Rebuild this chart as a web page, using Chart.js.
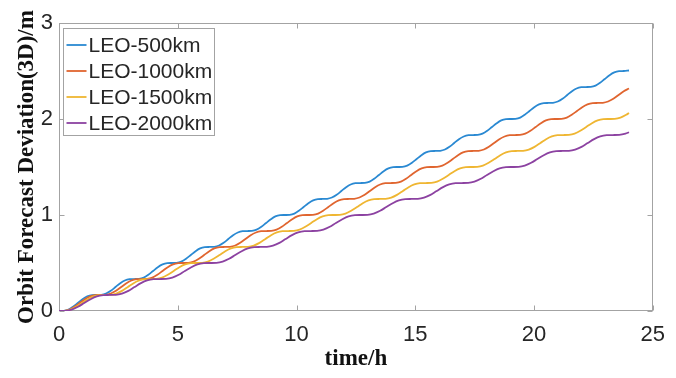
<!DOCTYPE html>
<html>
<head>
<meta charset="utf-8">
<script src="https://cdn.jsdelivr.net/npm/chart.js@4.4.1/dist/chart.umd.min.js"></script>
<style>
  html, body { margin: 0; padding: 0; background: #fff; }
  #wrap { width: 676px; height: 378px; position: relative; }
</style>
</head>
<body>
<div id="wrap"><canvas id="orbit"></canvas></div>
<script>
// Orbit forecast deviation (3D, metres) over 24 h for four LEO altitudes,
// sampled every eighth of an orbit.
const hours500 = [0, 0.20, 0.40, 0.59, 0.79, 0.99, 1.19, 1.39, 1.59, 1.78, 1.98, 2.18, 2.38, 2.58, 2.77, 2.97,
  3.17, 3.37, 3.57, 3.76, 3.96, 4.16, 4.36, 4.56, 4.76, 4.95, 5.15, 5.35, 5.55, 5.75, 5.94, 6.14,
  6.34, 6.54, 6.74, 6.93, 7.13, 7.33, 7.53, 7.73, 7.93, 8.12, 8.32, 8.52, 8.72, 8.92, 9.11, 9.31,
  9.51, 9.71, 9.91, 10.10, 10.30, 10.50, 10.70, 10.90, 11.10, 11.29, 11.49, 11.69, 11.89, 12.09, 12.28, 12.48,
  12.68, 12.88, 13.08, 13.27, 13.47, 13.67, 13.87, 14.07, 14.27, 14.46, 14.66, 14.86, 15.06, 15.26, 15.45, 15.65,
  15.85, 16.05, 16.25, 16.44, 16.64, 16.84, 17.04, 17.24, 17.44, 17.63, 17.83, 18.03, 18.23, 18.43, 18.62, 18.82,
  19.02, 19.22, 19.42, 19.61, 19.81, 20.01, 20.21, 20.41, 20.61, 20.80, 21.00, 21.20, 21.40, 21.60, 21.79, 21.99,
  22.19, 22.39, 22.59, 22.78, 22.98, 23.18, 23.38, 23.58, 23.78, 24.00];
const dev500 = [0, 0.002, 0.015, 0.044, 0.083, 0.123, 0.152, 0.165, 0.167, 0.169, 0.182, 0.210, 0.250, 0.290, 0.318, 0.331,
  0.333, 0.335, 0.348, 0.377, 0.417, 0.456, 0.485, 0.498, 0.500, 0.502, 0.515, 0.544, 0.583, 0.623, 0.652, 0.665,
  0.667, 0.669, 0.682, 0.710, 0.750, 0.790, 0.818, 0.831, 0.833, 0.835, 0.848, 0.877, 0.917, 0.956, 0.985, 0.998,
  1.000, 1.002, 1.015, 1.044, 1.083, 1.123, 1.152, 1.165, 1.167, 1.169, 1.182, 1.210, 1.250, 1.290, 1.318, 1.331,
  1.333, 1.335, 1.348, 1.377, 1.417, 1.456, 1.485, 1.498, 1.500, 1.502, 1.515, 1.544, 1.583, 1.623, 1.652, 1.665,
  1.667, 1.669, 1.682, 1.710, 1.750, 1.790, 1.818, 1.831, 1.833, 1.835, 1.848, 1.877, 1.917, 1.956, 1.985, 1.998,
  2.000, 2.002, 2.015, 2.044, 2.083, 2.123, 2.152, 2.165, 2.167, 2.169, 2.182, 2.210, 2.250, 2.290, 2.318, 2.331,
  2.333, 2.335, 2.348, 2.377, 2.417, 2.456, 2.485, 2.498, 2.500, 2.505];

const hours1000 = [0, 0.22, 0.44, 0.65, 0.87, 1.09, 1.31, 1.53, 1.75, 1.96, 2.18, 2.40, 2.62, 2.84, 3.05, 3.27,
  3.49, 3.71, 3.93, 4.14, 4.36, 4.58, 4.80, 5.02, 5.24, 5.45, 5.67, 5.89, 6.11, 6.33, 6.54, 6.76,
  6.98, 7.20, 7.42, 7.63, 7.85, 8.07, 8.29, 8.51, 8.73, 8.94, 9.16, 9.38, 9.60, 9.82, 10.03, 10.25,
  10.47, 10.69, 10.91, 11.12, 11.34, 11.56, 11.78, 12.00, 12.22, 12.43, 12.65, 12.87, 13.09, 13.31, 13.52, 13.74,
  13.96, 14.18, 14.40, 14.61, 14.83, 15.05, 15.27, 15.49, 15.71, 15.92, 16.14, 16.36, 16.58, 16.80, 17.01, 17.23,
  17.45, 17.67, 17.89, 18.10, 18.32, 18.54, 18.76, 18.98, 19.20, 19.41, 19.63, 19.85, 20.07, 20.29, 20.50, 20.72,
  20.94, 21.16, 21.38, 21.59, 21.81, 22.03, 22.25, 22.47, 22.69, 22.90, 23.12, 23.34, 23.56, 23.78, 24.00];
const dev1000 = [0, 0.002, 0.015, 0.044, 0.083, 0.123, 0.152, 0.165, 0.167, 0.169, 0.182, 0.210, 0.250, 0.290, 0.318, 0.331,
  0.333, 0.335, 0.348, 0.377, 0.417, 0.456, 0.485, 0.498, 0.500, 0.502, 0.515, 0.544, 0.583, 0.623, 0.652, 0.665,
  0.667, 0.669, 0.682, 0.710, 0.750, 0.790, 0.818, 0.831, 0.833, 0.835, 0.848, 0.877, 0.917, 0.956, 0.985, 0.998,
  1.000, 1.002, 1.015, 1.044, 1.083, 1.123, 1.152, 1.165, 1.167, 1.169, 1.182, 1.210, 1.250, 1.290, 1.318, 1.331,
  1.333, 1.335, 1.348, 1.377, 1.417, 1.456, 1.485, 1.498, 1.500, 1.502, 1.515, 1.544, 1.583, 1.623, 1.652, 1.665,
  1.667, 1.669, 1.682, 1.710, 1.750, 1.790, 1.818, 1.831, 1.833, 1.835, 1.848, 1.877, 1.917, 1.956, 1.985, 1.998,
  2.000, 2.002, 2.015, 2.044, 2.083, 2.123, 2.152, 2.165, 2.167, 2.169, 2.182, 2.210, 2.250, 2.290, 2.318];

const hours1500 = [0, 0.24, 0.48, 0.72, 0.97, 1.21, 1.45, 1.69, 1.93, 2.17, 2.41, 2.65, 2.90, 3.14, 3.38, 3.62,
  3.86, 4.10, 4.34, 4.58, 4.83, 5.07, 5.31, 5.55, 5.79, 6.03, 6.27, 6.51, 6.76, 7.00, 7.24, 7.48,
  7.72, 7.96, 8.20, 8.44, 8.69, 8.93, 9.17, 9.41, 9.65, 9.89, 10.13, 10.37, 10.62, 10.86, 11.10, 11.34,
  11.58, 11.82, 12.06, 12.30, 12.55, 12.79, 13.03, 13.27, 13.51, 13.75, 13.99, 14.23, 14.48, 14.72, 14.96, 15.20,
  15.44, 15.68, 15.92, 16.16, 16.41, 16.65, 16.89, 17.13, 17.37, 17.61, 17.85, 18.09, 18.34, 18.58, 18.82, 19.06,
  19.30, 19.54, 19.78, 20.02, 20.27, 20.51, 20.75, 20.99, 21.23, 21.47, 21.71, 21.95, 22.20, 22.44, 22.68, 22.92,
  23.16, 23.40, 23.64, 23.88, 24.00];
const dev1500 = [0, 0.002, 0.015, 0.044, 0.083, 0.123, 0.152, 0.165, 0.167, 0.169, 0.182, 0.210, 0.250, 0.290, 0.318, 0.331,
  0.333, 0.335, 0.348, 0.377, 0.417, 0.456, 0.485, 0.498, 0.500, 0.502, 0.515, 0.544, 0.583, 0.623, 0.652, 0.665,
  0.667, 0.669, 0.682, 0.710, 0.750, 0.790, 0.818, 0.831, 0.833, 0.835, 0.848, 0.877, 0.917, 0.956, 0.985, 0.998,
  1.000, 1.002, 1.015, 1.044, 1.083, 1.123, 1.152, 1.165, 1.167, 1.169, 1.182, 1.210, 1.250, 1.290, 1.318, 1.331,
  1.333, 1.335, 1.348, 1.377, 1.417, 1.456, 1.485, 1.498, 1.500, 1.502, 1.515, 1.544, 1.583, 1.623, 1.652, 1.665,
  1.667, 1.669, 1.682, 1.710, 1.750, 1.790, 1.818, 1.831, 1.833, 1.835, 1.848, 1.877, 1.917, 1.956, 1.985, 1.998,
  2.000, 2.002, 2.015, 2.044, 2.062];

const hours2000 = [0, 0.27, 0.53, 0.80, 1.06, 1.33, 1.59, 1.86, 2.12, 2.39, 2.65, 2.92, 3.18, 3.45, 3.71, 3.98,
  4.24, 4.51, 4.77, 5.04, 5.30, 5.57, 5.83, 6.10, 6.36, 6.63, 6.89, 7.16, 7.42, 7.69, 7.95, 8.22,
  8.48, 8.75, 9.01, 9.28, 9.54, 9.81, 10.07, 10.34, 10.60, 10.87, 11.13, 11.40, 11.66, 11.93, 12.19, 12.46,
  12.72, 12.99, 13.25, 13.52, 13.78, 14.05, 14.31, 14.58, 14.84, 15.11, 15.37, 15.64, 15.90, 16.17, 16.43, 16.70,
  16.96, 17.23, 17.49, 17.76, 18.02, 18.29, 18.55, 18.82, 19.08, 19.35, 19.61, 19.88, 20.14, 20.41, 20.67, 20.94,
  21.20, 21.47, 21.73, 22.00, 22.26, 22.53, 22.79, 23.06, 23.32, 23.59, 23.85, 24.00];
const dev2000 = [0, 0.002, 0.015, 0.044, 0.083, 0.123, 0.152, 0.165, 0.167, 0.169, 0.182, 0.210, 0.250, 0.290, 0.318, 0.331,
  0.333, 0.335, 0.348, 0.377, 0.417, 0.456, 0.485, 0.498, 0.500, 0.502, 0.515, 0.544, 0.583, 0.623, 0.652, 0.665,
  0.667, 0.669, 0.682, 0.710, 0.750, 0.790, 0.818, 0.831, 0.833, 0.835, 0.848, 0.877, 0.917, 0.956, 0.985, 0.998,
  1.000, 1.002, 1.015, 1.044, 1.083, 1.123, 1.152, 1.165, 1.167, 1.169, 1.182, 1.210, 1.250, 1.290, 1.318, 1.331,
  1.333, 1.335, 1.348, 1.377, 1.417, 1.456, 1.485, 1.498, 1.500, 1.502, 1.515, 1.544, 1.583, 1.623, 1.652, 1.665,
  1.667, 1.669, 1.682, 1.710, 1.750, 1.790, 1.818, 1.831, 1.833, 1.835, 1.848, 1.862];

const seriesNames = ['LEO-500km', 'LEO-1000km', 'LEO-1500km', 'LEO-2000km'];
const xTicks = [0, 5, 10, 15, 20, 25];
const yTicks = [0, 1, 2, 3];

const lineColors = ['#2a89d2', '#e0652f', '#efb632', '#8c42a1'];
const AXIS_COLOR = '#a3a3a3';
const TEXT_COLOR = '#262626';
const SANS = "'Liberation Sans', Arial, sans-serif";
const SERIF = "'Liberation Serif', 'Times New Roman', serif";

const toPoints = (t, v) => t.map((h, i) => ({ x: h, y: v[i] }));
const series = [[hours500, dev500], [hours1000, dev1000], [hours1500, dev1500], [hours2000, dev2000]];

// MATLAB-style box with inward ticks on all four sides
const matlabAxes = {
  id: 'matlabAxes',
  beforeDatasetsDraw(chart) {
    const { ctx, chartArea: a, scales: { x, y } } = chart;
    const l = Math.round(a.left) + 0.5, r = Math.round(a.right) - 0.5;
    const t = Math.round(a.top) + 0.5, b = Math.round(a.bottom) - 0.5;
    ctx.save();
    ctx.strokeStyle = AXIS_COLOR;
    ctx.lineWidth = 1;
    ctx.strokeRect(l, t, r - l, b - t);
    ctx.beginPath();
    xTicks.forEach(v => {
      const px = Math.round(x.getPixelForValue(v)) + 0.5;
      ctx.moveTo(px, b); ctx.lineTo(px, b - 5);
      ctx.moveTo(px, t); ctx.lineTo(px, t + 5);
    });
    yTicks.forEach(v => {
      const py = Math.round(y.getPixelForValue(v)) + 0.5;
      ctx.moveTo(l, py); ctx.lineTo(l + 5, py);
      ctx.moveTo(r, py); ctx.lineTo(r - 5, py);
    });
    ctx.stroke();
    ctx.restore();
  },
  afterDraw(chart) {
    const { ctx, chartArea: a } = chart;
    ctx.save();

    // y axis title, rotated
    ctx.translate(27, (a.top + a.bottom) / 2);
    ctx.rotate(-Math.PI / 2);
    ctx.font = 'bold 23px ' + SERIF;
    ctx.fillStyle = '#111';
    ctx.textAlign = 'center';
    ctx.textBaseline = 'middle';
    ctx.fillText('Orbit Forecast Deviation(3D)/m', 0, 0);
    ctx.setTransform(1, 0, 0, 1, 0, 0);

    // legend box in the upper left corner
    const bx = a.left + 4.5, by = a.top + 5.5, bw = 151, bh = 107;
    ctx.fillStyle = '#fff';
    ctx.fillRect(bx, by, bw, bh);
    ctx.strokeStyle = AXIS_COLOR;
    ctx.lineWidth = 1;
    ctx.strokeRect(bx, by, bw, bh);
    ctx.font = '21px ' + SANS;
    ctx.textAlign = 'left';
    ctx.textBaseline = 'middle';
    chart.data.datasets.forEach((ds, i) => {
      const ry = by + 16.5 + i * 26;
      ctx.strokeStyle = ds.borderColor;
      ctx.lineWidth = 1.8;
      ctx.beginPath();
      ctx.moveTo(bx + 3, ry);
      ctx.lineTo(bx + 23, ry);
      ctx.stroke();
      ctx.fillStyle = TEXT_COLOR;
      ctx.fillText(ds.label, bx + 25, ry + 1);
    });
    ctx.restore();
  }
};

new Chart(document.getElementById('orbit'), {
  type: 'line',
  data: {
    datasets: series.map(([t, v], i) => ({
      label: seriesNames[i],
      data: toPoints(t, v),
      borderColor: lineColors[i],
      backgroundColor: lineColors[i],
      borderWidth: 1.8,
      pointRadius: 0,
      fill: false,
      cubicInterpolationMode: 'monotone',
      order: seriesNames.length - i
    }))
  },
  options: {
    responsive: true,
    maintainAspectRatio: false,
    animation: false,
    layout: { padding: { left: 0, right: 16, top: 23, bottom: 0 } },
    plugins: { legend: { display: false }, tooltip: { enabled: false } },
    scales: {
      x: {
        type: 'linear',
        min: 0,
        max: 25,
        afterFit(scale) { scale.height = 67; },
        afterBuildTicks(scale) { scale.ticks = xTicks.map(v => ({ value: v })); },
        grid: { display: false, drawTicks: false },
        border: { display: false },
        ticks: { padding: 11, color: TEXT_COLOR, font: { family: SANS, size: 22 } },
        title: {
          display: true,
          text: 'time/h',
          color: '#111',
          font: { family: SERIF, size: 23, weight: 'bold' },
          padding: { top: 0, bottom: 5 }
        }
      },
      y: {
        min: 0,
        max: 3,
        afterFit(scale) { scale.width = 59; },
        afterBuildTicks(scale) { scale.ticks = yTicks.map(v => ({ value: v })); },
        grid: { display: false, drawTicks: false },
        border: { display: false },
        ticks: { padding: 6, color: TEXT_COLOR, font: { family: SANS, size: 22 } }
      }
    }
  },
  plugins: [matlabAxes]
});
</script>
</body>
</html>
